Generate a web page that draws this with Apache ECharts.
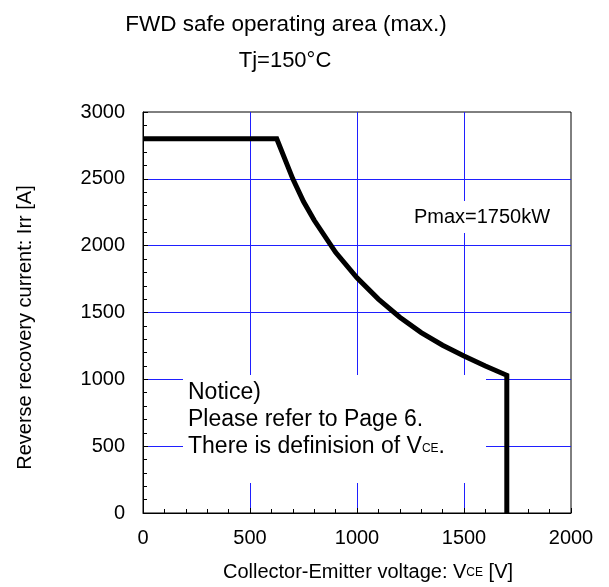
<!DOCTYPE html>
<html>
<head>
<meta charset="utf-8">
<script src="https://cdn.jsdelivr.net/npm/echarts@6/dist/echarts.min.js"></script>
<style>
html,body{margin:0;padding:0;background:#fff;}
#c{width:609px;height:587px;}
</style>
</head>
<body>
<div id="c"></div>
<script>
// Data
const voltage = [0, 625, 700, 750, 800, 900, 1000, 1100, 1200, 1300, 1400, 1500, 1600, 1700, 1700];
const current = [2800, 2800, 2500, 2330, 2190, 1950, 1760, 1600, 1465, 1350, 1255, 1175, 1100, 1030, 0];
const xTicks = [0, 500, 1000, 1500, 2000];
const yTicks = [0, 500, 1000, 1500, 2000, 2500, 3000];
const titleText = 'FWD safe operating area (max.)';
const subTitleText = 'Tj=150°C';
const powerLabel = 'Pmax=1750kW';

const FONT = '"Liberation Sans", Arial, sans-serif';
const chart = echarts.init(document.getElementById('c'), null, {renderer: 'canvas'});

const pts = voltage.map((v, i) => [v, current[i]]);

const option = {
  backgroundColor: '#fff',
  animation: false,
  title: [
    {text: titleText, left: 281, top: 8, textAlign: 'center',
     textStyle: {fontFamily: FONT, fontSize: 22.5, fontWeight: 'normal', color: '#000'}},
    {text: subTitleText, left: 280, top: 45, textAlign: 'center',
     textStyle: {fontFamily: FONT, fontSize: 22, fontWeight: 'normal', color: '#000'}}
  ],
  grid: {left: 143, right: 38, top: 112, bottom: 73, show: true, borderColor: '#000', borderWidth: 1, containLabel: false},
  xAxis: {
    type: 'value', min: xTicks[0], max: xTicks[xTicks.length - 1], interval: 500,
    name: 'Collector-Emitter voltage: V{sub|CE} [V]',
    nameLocation: 'middle', nameGap: 49,
    nameTextStyle: {fontFamily: FONT, fontSize: 20, color: '#000', padding: [0, 0, 0, 22],
      rich: {sub: {fontFamily: FONT, fontSize: 12, color: '#000', verticalAlign: 'bottom', padding: [0, 0, 3, 0]}}},
    axisLine: {show: true, lineStyle: {color: '#000', width: 1}},
    axisTick: {show: true, inside: true, length: 5, lineStyle: {color: '#000'}},
    minorTick: {show: true, splitNumber: 5, length: 4, lineStyle: {color: '#000'}},
    axisLabel: {fontFamily: FONT, fontSize: 20, color: '#000', margin: 15, formatter: v => String(v)},
    splitLine: {show: true, showMinLine: false, showMaxLine: false, lineStyle: {color: '#1f1fff', width: 1}}
  },
  yAxis: {
    type: 'value', min: yTicks[0], max: yTicks[yTicks.length - 1], interval: 500,
    name: 'Reverse recovery current: Irr [A]',
    nameLocation: 'middle', nameGap: 108, nameRotate: 90,
    nameTextStyle: {fontFamily: FONT, fontSize: 20, color: '#000', padding: [0, 30, 0, 0]},
    axisLine: {show: true, lineStyle: {color: '#000', width: 1}},
    axisTick: {show: true, inside: true, length: 5, lineStyle: {color: '#000'}},
    minorTick: {show: true, splitNumber: 5, length: 4, lineStyle: {color: '#000'}},
    axisLabel: {fontFamily: FONT, fontSize: 20, color: '#000', margin: 18, formatter: v => String(v)},
    splitLine: {show: true, showMinLine: false, showMaxLine: false, lineStyle: {color: '#1f1fff', width: 1}}
  },
  series: [{
    type: 'line', data: pts, symbol: 'none', z: 5,
    lineStyle: {color: '#000', width: 5, join: 'miter'}
  }],
  graphic: [
    {type: 'rect', shape: {x: 183, y: 375, width: 303, height: 108}, style: {fill: '#fff'}, z: 1},
    {type: 'text', x: 188, y: 379, z: 2,
     style: {
       text: 'Notice)\nPlease refer to Page 6.\nThere is definision of V{sub|CE}.',
       font: '23px ' + FONT, fill: '#000', lineHeight: 27, verticalAlign: 'top', align: 'left',
       rich: {sub: {fontSize: 12, fontFamily: FONT, fill: '#000', verticalAlign: 'bottom', lineHeight: 14, padding: [0, 0, 5, 0]}}
     }},
    {type: 'text', x: 482, y: 217, z: 2,
     style: {text: powerLabel, font: '20px ' + FONT, fill: '#000', align: 'center', verticalAlign: 'middle',
       backgroundColor: '#fff', padding: [6, 2]}}
  ]
};
chart.setOption(option);
</script>
</body>
</html>
